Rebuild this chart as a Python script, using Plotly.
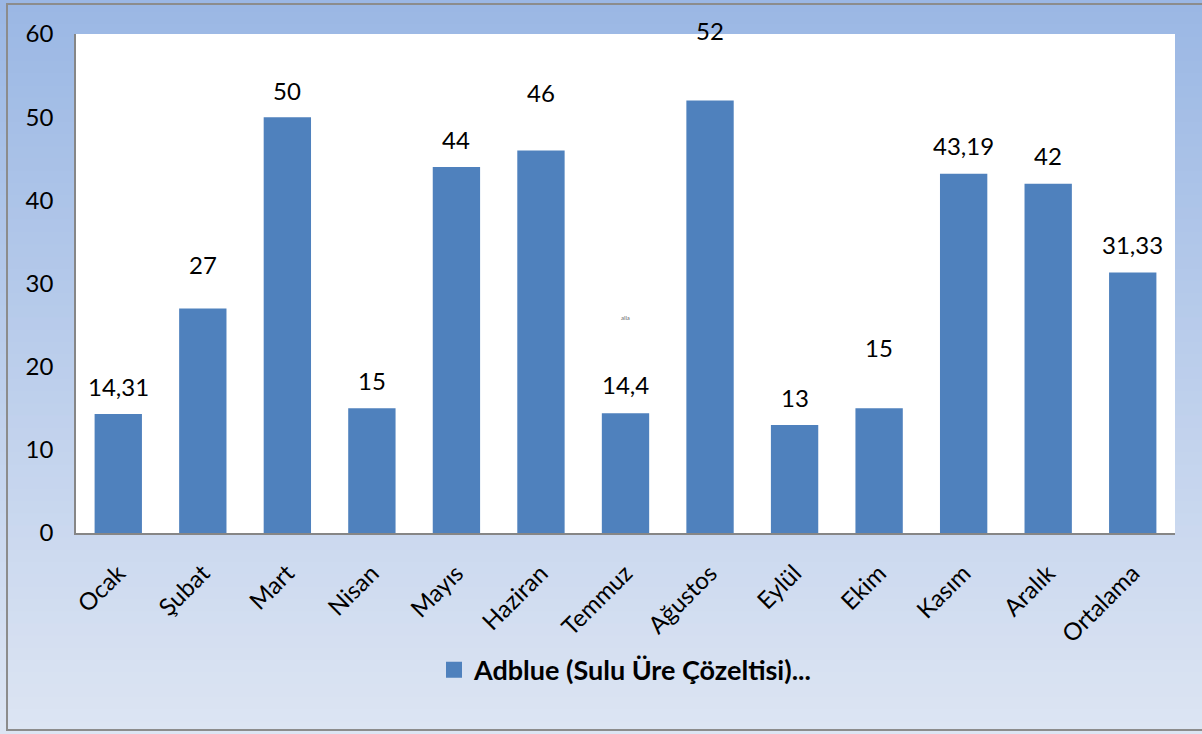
import plotly.graph_objects as go

# ---- data ----
categories = ["Ocak", "Şubat", "Mart", "Nisan", "Mayıs", "Haziran", "Temmuz",
              "Ağustos", "Eylül", "Ekim", "Kasım", "Aralık", "Ortalama"]
values = [14.31, 27, 50, 15, 44, 46, 14.4, 52, 13, 15, 43.19, 42, 31.33]
value_labels = ["14,31", "27", "50", "15", "44", "46", "14,4", "52", "13", "15",
                "43,19", "42", "31,33"]
series_name = "Adblue (Sulu Üre Çözeltisi)..."
y_ticks = [0, 10, 20, 30, 40, 50, 60]

# ---- style ----
label_shift = [27, 44, 27, 28, 28, 58, 29, 70, 27, 61, 28, 28, 28]  # px above bar top
FONT = "Lato, 'Open Sans', sans-serif"
BAR = "#4F81BD"
W, H = 1202, 734
ML, MR, MT, MB = 76, 27, 34, 201
PW, PH = W - ML - MR, H - MT - MB

fig = go.Figure()
fig.add_trace(go.Bar(
    x=categories, y=values, name=series_name,
    marker=dict(color=BAR, line=dict(width=0)),
    showlegend=False,
))
# legend entry with a larger square swatch
fig.add_trace(go.Scatter(
    x=[None], y=[None], mode="markers", name=series_name,
    marker=dict(symbol="square", size=16, color=BAR),
    showlegend=True,
))

# data labels
for c, v, t, s in zip(categories, values, value_labels, label_shift):
    fig.add_annotation(x=c, y=v, text=t, showarrow=False, yanchor="middle",
                       yshift=s, font=dict(family=FONT, size=24, color="#000"))
# tiny stray text
fig.add_annotation(x="Temmuz", y=25.9, text="alla", showarrow=False,
                   font=dict(family=FONT, size=6, color="#666"))


def px2paper_x(px):
    return (px - ML) / PW


def px2paper_y(py):
    return (H - MB - py) / PH


# gradient background strips (paper coords)
shapes = []
top_c = (154, 183, 228)
bot_c = (221, 229, 243)
N = 60
for i in range(N):
    y0p = i * H / N
    y1p = (i + 1) * H / N
    f = (i + 0.5) / N
    col = tuple(round(top_c[k] + (bot_c[k] - top_c[k]) * f) for k in range(3))
    shapes.append(dict(type="rect", xref="paper", yref="paper",
                       x0=px2paper_x(0), x1=px2paper_x(W),
                       y0=px2paper_y(y1p + 0.5), y1=px2paper_y(y0p - 0.5),
                       fillcolor="rgb(%d,%d,%d)" % col, line=dict(width=0),
                       layer="below"))
# white plot area
shapes.append(dict(type="rect", xref="paper", yref="paper", x0=0, x1=1, y0=0, y1=1,
                   fillcolor="white", line=dict(width=0), layer="below"))
# outer border
shapes.append(dict(type="rect", xref="paper", yref="paper",
                   x0=px2paper_x(7), x1=px2paper_x(W + 5),
                   y0=px2paper_y(730), y1=px2paper_y(4),
                   fillcolor="rgba(0,0,0,0)", line=dict(width=2, color="#8C8C8C"),
                   layer="below"))

fig.update_layout(
    width=W, height=H,
    margin=dict(l=ML, r=MR, t=MT, b=MB, pad=0),
    paper_bgcolor="white", plot_bgcolor="white",
    shapes=shapes,
    bargap=0.44,
    font=dict(family=FONT, size=24, color="#000"),
    legend=dict(orientation="h", x=0.5, xanchor="center", y=-0.275, yanchor="middle",
                bgcolor="rgba(0,0,0,0)", itemsizing="trace",
                font=dict(family=FONT, size=27, color="#000", weight="bold")),
    xaxis=dict(showgrid=False, showline=True, linecolor="#868686", linewidth=1.5,
               tickangle=-45, ticks="", tickfont=dict(family=FONT, size=24),
               ticklabelstandoff=15, zeroline=False),
    yaxis=dict(range=[0, 60], tickvals=y_ticks, showgrid=False, showline=True,
               linecolor="#868686", linewidth=1.5, ticks="", zeroline=False,
               tickfont=dict(family=FONT, size=24), ticklabelstandoff=16),
)

fig.write_html("out.html", config={"displayModeBar": False},
               post_script="document.body.style.margin='0';document.body.style.padding='0';")
